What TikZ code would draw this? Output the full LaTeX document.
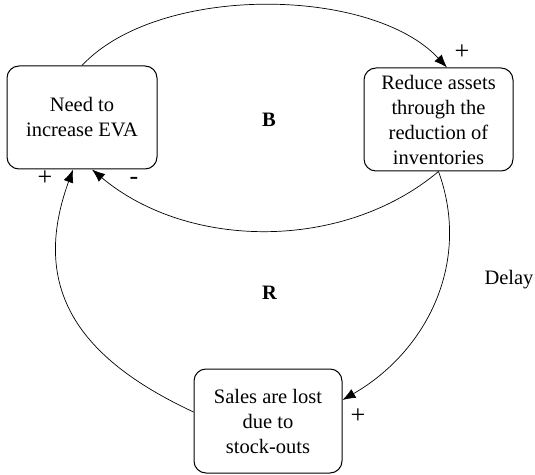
\documentclass[tikz,border=0pt]{standalone}
\usepackage{fontspec}
\setmainfont{Liberation Serif}
\usetikzlibrary{positioning, arrows.meta}

\begin{document}
\begin{tikzpicture}[x=1pt, y=1pt,
  factor/.style={draw, line width=1pt, rounded corners=12pt, align=center, minimum width=149pt, minimum height=103pt, inner sep=2pt, font=\fontsize{20.5}{25}\selectfont},
  link/.style={line width=0.7pt, -{Latex[length=13pt, width=10pt]}},
  polarity/.style={font=\fontsize{26}{28}\selectfont, inner sep=0pt},
  loopname/.style={font=\fontsize{20.5}{25}\selectfont\bfseries}]
\useasboundingbox (0,0) rectangle (535,474);
\node [factor, minimum width=150pt] (eva) at (82,356.5) {Need to\\increase EVA};
\node [factor] (assets) at (438.5,354.5) {Reduce assets\\through the\\reduction of\\inventories};
\node [factor, minimum width=148pt, minimum height=104pt] (sales) at (268,53) {Sales are lost\\due to\\stock-outs};
\draw [link] (eva.north) to [out=47, in=133, looseness=0.78] ([xshift=8.5pt]assets.north);
\draw [link] (assets.south) to [out=220, in=320, looseness=0.92] ([xshift=10pt]eva.south);
\draw [link] ([yshift=9pt]sales.west) to [out=155, in=250, looseness=1.2] ([xshift=-9pt]eva.south);
\draw [link] (assets.south) to [out=290, in=30] ([yshift=21pt]sales.east);
\node [polarity] (plus1) at (462,422) {+};
\node [polarity] (minus1) at (134,293) {-};
\node [polarity] (plus2) at (45,296) {+};
\node [polarity] (plus3) at (358,58) {+};
\node [loopname] (b) at (269,354.5) {B};
\node [loopname] (r) at (269.5,181) {R};
\node [font=\fontsize{20.5}{25}\selectfont] (delay) at (509,194) {Delay};
\end{tikzpicture}
\end{document}
